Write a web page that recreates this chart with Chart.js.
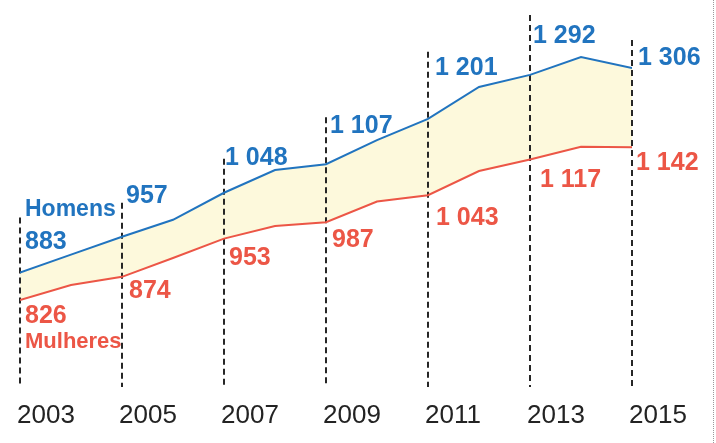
<!DOCTYPE html>
<html lang="pt">
<head>
    <meta charset="UTF-8">
    <title>Homens e Mulheres 2003-2015</title>
    <script src="https://cdn.jsdelivr.net/npm/chart.js"></script>
    <style>
        body {
            margin: 0;
            padding: 0;
            background-color: #ffffff;
        }
        .wrap {
            position: relative;
            width: 716px;
            height: 443px;
        }
        .edge {
            position: absolute;
            left: 713px;
            top: 0;
            height: 443px;
            border-left: 1px dotted #9a9a9a;
        }
        canvas {
            display: block;
        }
    </style>
</head>
<body>
    <div class="wrap">
        <canvas id="chart" width="716" height="443"></canvas>
        <div class="edge"></div>
    </div>

    <script>
        const years = [2003, 2004, 2005, 2006, 2007, 2008, 2009, 2010, 2011, 2012, 2013, 2014, 2015];
        const homens = [883, 920, 957, 992, 1048, 1095, 1107, 1157, 1201, 1267, 1292, 1329, 1306];
        const mulheres = [826, 857, 874, 913, 953, 979, 987, 1030, 1043, 1093, 1117, 1143, 1142];
        const labelYears = [2003, 2005, 2007, 2009, 2011, 2013, 2015];

        // label placement next to each labelled point (px)
        const blueDx = [5, 4, 1, 4, 7, 3, 6];
        const blueDy = [-23, -34, -28, -31, -44, -32, -3];
        const redDx = [5, 7, 5, 6, 8, 10, 4];
        const redDy = [23, 21, 26, 25, 30, 28, 23];
        const dashTopDy = [-55, -34, -34, -47, -67, -60, -28];
        const dashBottom = 387;

        const blue = '#2174bf';
        const red = '#ec5646';
        const fillColor = '#fdf9dc';

        function fmt(v) {
            return String(v).replace(/\B(?=(\d{3})+(?!\d))/g, ' ');
        }

        const annotations = {
            id: 'annotations',
            beforeDatasetsDraw(chart) {
                const ctx = chart.ctx;
                const x = chart.scales.x;
                const y = chart.scales.y;
                ctx.save();
                ctx.strokeStyle = '#262626';
                ctx.lineWidth = 2;
                ctx.setLineDash([6, 4]);
                labelYears.forEach((yr, i) => {
                    const idx = years.indexOf(yr);
                    const px = Math.round(x.getPixelForValue(yr));
                    const top = y.getPixelForValue(homens[idx]) + dashTopDy[i];
                    ctx.beginPath();
                    ctx.moveTo(px, top);
                    ctx.lineTo(px, dashBottom);
                    ctx.stroke();
                });
                ctx.restore();
            },
            afterDatasetsDraw(chart) {
                const ctx = chart.ctx;
                const x = chart.scales.x;
                const y = chart.scales.y;
                ctx.save();
                ctx.textAlign = 'left';
                ctx.textBaseline = 'alphabetic';

                labelYears.forEach((yr, i) => {
                    const idx = years.indexOf(yr);
                    const px = x.getPixelForValue(yr);

                    ctx.font = 'bold 25px "Liberation Sans", Arial, sans-serif';
                    ctx.fillStyle = blue;
                    ctx.fillText(fmt(homens[idx]), px + blueDx[i], y.getPixelForValue(homens[idx]) + blueDy[i]);
                    ctx.fillStyle = red;
                    ctx.fillText(fmt(mulheres[idx]), px + redDx[i], y.getPixelForValue(mulheres[idx]) + redDy[i]);

                    // year labels under the dashed lines
                    ctx.font = '26px "Liberation Sans", Arial, sans-serif';
                    ctx.fillStyle = '#232323';
                    ctx.fillText(String(yr), px - 3, 423);
                });

                // series names at the first year
                const x0 = x.getPixelForValue(years[0]);
                ctx.font = 'bold 23px "Liberation Sans", Arial, sans-serif';
                ctx.fillStyle = blue;
                ctx.fillText('Homens', x0 + 5, y.getPixelForValue(homens[0]) + blueDy[0] - 33);
                ctx.font = 'bold 22px "Liberation Sans", Arial, sans-serif';
                ctx.fillStyle = red;
                ctx.fillText('Mulheres', x0 + 5, y.getPixelForValue(mulheres[0]) + redDy[0] + 25);
                ctx.restore();
            }
        };

        new Chart(document.getElementById('chart'), {
            type: 'line',
            data: {
                labels: years,
                datasets: [{
                    label: 'Homens',
                    data: years.map((yr, i) => ({ x: yr, y: homens[i] })),
                    borderColor: blue,
                    borderWidth: 2,
                    pointRadius: 0,
                    tension: 0,
                    fill: '+1',
                    backgroundColor: fillColor
                }, {
                    label: 'Mulheres',
                    data: years.map((yr, i) => ({ x: yr, y: mulheres[i] })),
                    borderColor: red,
                    borderWidth: 2,
                    pointRadius: 0,
                    tension: 0,
                    fill: false
                }]
            },
            options: {
                responsive: false,
                animation: false,
                devicePixelRatio: 1,
                layout: {
                    padding: { left: 20, right: 84, top: 0, bottom: 0 }
                },
                scales: {
                    x: { type: 'linear', min: 2003, max: 2015, display: false },
                    y: { min: 530, max: 1447, display: false }
                },
                plugins: {
                    legend: { display: false },
                    tooltip: { enabled: false },
                    filler: { drawTime: 'beforeDatasetsDraw' }
                }
            },
            plugins: [annotations]
        });
    </script>
</body>
</html>
